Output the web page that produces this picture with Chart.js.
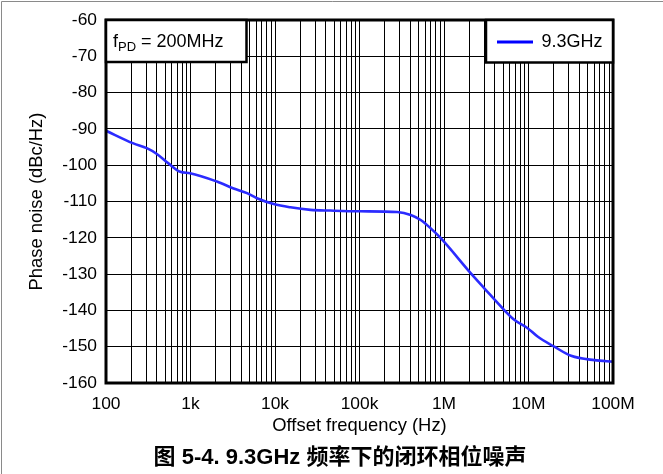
<!DOCTYPE html>
<html><head><meta charset="utf-8">
<script src="https://cdn.jsdelivr.net/npm/chart.js"></script>
<style>html,body{margin:0;padding:0;background:#fff;}#wrap{width:663px;height:474px;}</style>
</head><body><div id="wrap"><canvas id="c" width="663" height="474"></canvas></div>
<script>
// ---- data ----
const frequencies = [100, 211, 304, 400, 548, 755, 990, 2055, 3236, 4667, 6124, 9660, 15200, 26300, 45400, 100000, 280000, 404000, 530000, 697000, 916000, 2080000, 3000000, 5160000, 6780000, 9770000, 12800000, 20200000, 31900000, 60300000, 100000000];
const phaseNoise = [-90.5, -94.0, -95.3, -96.9, -99.5, -101.8, -102.2, -104.5, -106.4, -107.7, -109.1, -110.7, -111.6, -112.3, -112.5, -112.7, -112.9, -113.7, -115.1, -117.4, -120.1, -129.8, -133.9, -139.9, -142.6, -144.9, -147.2, -150.0, -152.5, -153.7, -154.1];
const seriesName = '9.3GHz';
const xDecades = [100, 1000, 10000, 100000, 1000000, 10000000, 100000000];
const xTickLabels = ['100', '1k', '10k', '100k', '1M', '10M', '100M'];
const yMin = -160, yMax = -60, yStep = 10;
const xTitle = 'Offset frequency (Hz)';
const yTitle = 'Phase noise (dBc/Hz)';
const noteMain = 'f', noteSub = 'PD', noteRest = ' = 200MHz';
const caption = '图 5-4. 9.3GHz 频率下的闭环相位噪声';

const FONT = '"Liberation Sans", Arial, sans-serif';
const CJK = '"Liberation Sans", "Noto Sans CJK SC", sans-serif';

const gridValues = [];
for (let i = 0; i < xDecades.length - 1; i++) for (let m = 1; m <= 9; m++) gridValues.push(m * xDecades[i]);
gridValues.push(xDecades[xDecades.length - 1]);

const decor = {
  id: 'decor',
  beforeDraw(chart) {
    const ctx = chart.ctx;
    ctx.save();
    ctx.fillStyle = '#fff';
    ctx.fillRect(0, 0, chart.width, chart.height);
    ctx.strokeStyle = '#8a8a8a';
    ctx.lineWidth = 1;
    ctx.beginPath();
    ctx.moveTo(1.5, chart.height); ctx.lineTo(1.5, 1.5); ctx.lineTo(chart.width, 1.5);
    ctx.stroke();
    ctx.restore();
  },
  afterDatasetsDraw(chart) {
    const ctx = chart.ctx, a = chart.chartArea;
    ctx.save();
    // plot frame
    ctx.strokeStyle = '#000';
    ctx.lineWidth = 3;
    ctx.strokeRect(a.left, a.top, a.right - a.left, a.bottom - a.top);
    // annotation box
    ctx.lineWidth = 2.5;
    ctx.fillStyle = '#fff';
    ctx.fillRect(a.left, a.top, 140.5, 42);
    ctx.strokeRect(a.left, a.top, 140.5, 42);
    ctx.fillStyle = '#000';
    ctx.textBaseline = 'alphabetic';
    ctx.textAlign = 'left';
    ctx.font = '18px ' + FONT;
    let x = a.left + 7, base = a.top + 27;
    ctx.fillText(noteMain, x, base);
    x += ctx.measureText(noteMain).width;
    ctx.font = '13px ' + FONT;
    ctx.fillText(noteSub, x, base + 4);
    x += ctx.measureText(noteSub).width;
    ctx.font = '18px ' + FONT;
    ctx.fillText(noteRest, x, base);
    // legend box
    const ds = chart.data.datasets[0];
    const lx = 486, ly = a.top, lw = a.right - lx, lh = 42.5;
    ctx.fillStyle = '#fff';
    ctx.fillRect(lx, ly, lw, lh);
    ctx.strokeRect(lx, ly, lw, lh);
    ctx.strokeStyle = '#0000ff';
    ctx.lineWidth = 3;
    ctx.beginPath(); ctx.moveTo(497, ly + 22); ctx.lineTo(533, ly + 22); ctx.stroke();
    ctx.fillStyle = '#000';
    ctx.font = '18px ' + FONT;
    ctx.textBaseline = 'middle';
    ctx.fillText(ds.label, 541.5, ly + 22.5);
    // caption
    ctx.font = 'bold 22px ' + CJK;
    ctx.textAlign = 'center';
    ctx.fillText(caption, 340, 458);
    ctx.restore();
  }
};

new Chart(document.getElementById('c'), {
  type: 'line',
  data: {
    datasets: [{
      label: seriesName,
      data: frequencies.map((f, i) => ({ x: f, y: phaseNoise[i] })),
      borderColor: '#2b2bff',
      borderWidth: 2.6,
      pointRadius: 0,
      fill: false,
      cubicInterpolationMode: 'monotone'
    }]
  },
  options: {
    responsive: false,
    animation: false,
    devicePixelRatio: 1,
    layout: { padding: { top: 20, right: 50, left: 0, bottom: 31 } },
    plugins: { legend: { display: false }, tooltip: { enabled: false } },
    scales: {
      x: {
        type: 'logarithmic', min: xDecades[0], max: xDecades[xDecades.length - 1],
        afterBuildTicks: s => { s.ticks = gridValues.map(v => ({ value: v })); },
        afterFit: s => { s.height = 60; },
        ticks: {
          autoSkip: false, maxRotation: 0, minRotation: 0, padding: 10.5, color: '#000',
          font: { family: FONT, size: 17.4 },
          callback: v => { const i = xDecades.indexOf(v); return i >= 0 ? xTickLabels[i] : ''; }
        },
        grid: { color: '#000', lineWidth: 1, drawTicks: false },
        border: { display: false },
        title: { display: true, text: xTitle, color: '#000', font: { family: FONT, size: 18.4 }, padding: { top: 0, bottom: 6 } }
      },
      y: {
        min: yMin, max: yMax,
        afterFit: s => { s.width = 106; },
        ticks: { stepSize: yStep, padding: 9, color: '#000', font: { family: FONT, size: 17.4 } },
        grid: { color: '#000', lineWidth: 1, drawTicks: false },
        border: { display: false },
        title: { display: true, text: yTitle, color: '#000', font: { family: FONT, size: 18.4 }, padding: { top: 26, bottom: 0 } }
      }
    }
  },
  plugins: [decor]
});
</script></body></html>
